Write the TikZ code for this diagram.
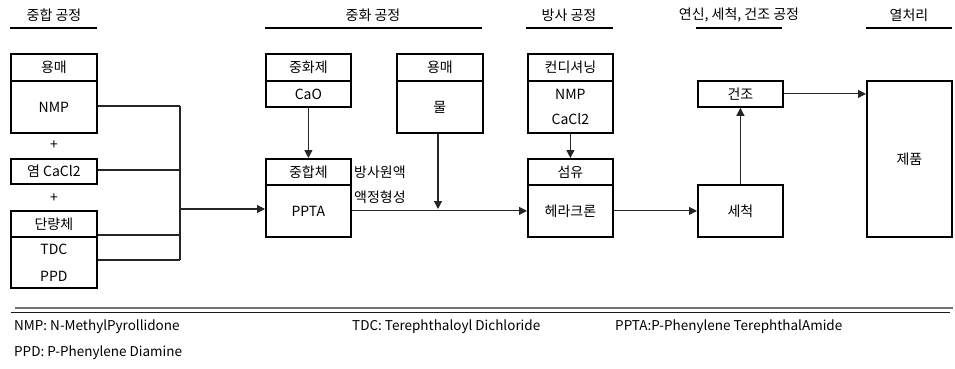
\documentclass[tikz,border=0pt]{standalone}
\usepackage{fontspec}
\setmainfont{Noto Sans CJK KR}
\newfontfamily\footfont{Noto Sans CJK KR}
\usetikzlibrary{arrows.meta}
\begin{document}
\begin{tikzpicture}[x=1pt,y=-1pt,
  box/.style={draw=black, line width=1.8pt, minimum width=86pt, anchor=north west, inner sep=0pt, align=center, font=\fontsize{14}{26}\selectfont},
  conn/.style={line width=1.1pt, draw=black!85},
  arr/.style={conn, -{Triangle[length=8pt,width=8pt]}},
  hdr/.style={font=\fontsize{14}{16}\selectfont},
  hline/.style={line width=2pt},
  note/.style={anchor=west, inner sep=0pt, font=\footfont\fontsize{13.5}{15}\selectfont},
  plain/.style={font=\fontsize{14}{16}\selectfont, inner sep=0pt}
]
\useasboundingbox (0,0) rectangle (955,369);

% headers
\node[hdr] (h1) at (54,15) {중합 공정};
\node[hdr] (h2) at (373,15) {중화 공정};
\node[hdr] (h3) at (569,15) {방사 공정};
\node[hdr] (h4) at (739,15) {연신, 세척, 건조 공정};
\node[hdr] (h5) at (909,15) {열처리};
\draw[hline] (10,28) -- (97,28);
\draw[hline] (265,28) -- (482,28);
\draw[hline] (526,28) -- (613,28);
\draw[hline] (696,28) -- (782,28);
\draw[hline] (866,28) -- (952,28);

% polymerisation column
\node[box, minimum height=27pt] (s1t) at (10,53) {용매};
\node[box, minimum height=52pt] (s1b) at (10,80) {NMP};
\node[plain] (p1) at (54,145) {+};
\node[box, minimum height=25pt] (salt) at (10,158) {염 CaCl2};
\node[plain] (p2) at (54,198) {+};
\node[box, minimum height=26pt] (mt) at (10,210) {단량체};
\node[box, minimum height=51pt, font=\fontsize{14}{27}\selectfont] (mb) at (10,236) {TDC\\PPD};

% neutralisation
\node[box, minimum width=85pt, minimum height=27pt] (nt) at (265,53) {중화제};
\node[box, minimum width=85pt, minimum height=26pt] (nb) at (265,80) {CaO};
\node[box, minimum width=85pt, minimum height=26pt] (pt) at (265,158) {중합체};
\node[box, minimum width=85pt, minimum height=52pt] (pb) at (265,184) {PPTA};
\node[plain, anchor=west] (l1) at (354,172) {방사원액};
\node[plain, anchor=west] (l2) at (354,197) {액정형성};
\node[box, minimum height=27pt] (s2t) at (396,53) {용매};
\node[box, minimum height=52pt] (s2b) at (396,80) {물};

% spinning
\node[box, minimum width=85pt, minimum height=27pt] (ct) at (527,53) {컨디셔닝};
\node[box, minimum width=85pt, minimum height=52pt, font=\fontsize{14}{25}\selectfont] (cb) at (527,80) {NMP\\CaCl2};
\node[box, minimum width=85pt, minimum height=26pt] (ft) at (527,158) {섬유};
\node[box, minimum width=85pt, minimum height=52pt] (fb) at (527,184) {헤라크론};

% washing / drying
\node[box, minimum width=85pt, minimum height=52pt] (wash) at (697,184) {세척};
\node[box, minimum width=85pt, minimum height=26pt] (dry) at (697,80) {건조};

% heat treatment
\node[box, minimum width=85pt, minimum height=156pt] (prod) at (866,80) {제품};

% junctions
\coordinate (j1) at (180,106);
\coordinate (j2) at (180,170);
\coordinate (j3) at (180,235);
\coordinate (j4) at (180,260);
\coordinate (jm) at (180,209);
\coordinate (jw) at (438,209);

\draw[conn] (s1b.east |- j1) -- (j1);
\draw[conn] (salt.east |- j2) -- (j2);
\draw[conn] (mb.east |- j3) -- (j3);
\draw[conn] (mb.east |- j4) -- (j4);
\draw[conn] (j1) -- (j4);
\draw[arr] (jm) -- (pb.west |- jm);
\draw[arr] (nb.south) -- (pt.north);
\draw[arr] (pb.east) -- (fb.west);
\draw[arr] (s2b.south -| jw) -- (jw);
\draw[arr] (cb.south) -- (ft.north);
\draw[arr] (fb.east) -- (wash.west);
\draw[arr] (wash.north) -- (dry.south);
\draw[arr] (dry.east) -- (prod.west |- dry.east);

% bottom rules
\draw[line width=2pt, draw=black!55] (15,308) -- (953,308);
\draw[line width=1pt, draw=black!90] (11,312) -- (950,312);

% footnotes
\node[note] (n1) at (14,327) {NMP: N-MethylPyrollidone};
\node[note] (n2) at (352,327) {TDC: Terephthaloyl Dichloride};
\node[note] (n3) at (615,327) {PPTA:P-Phenylene TerephthalAmide};
\node[note] (n4) at (14,353) {PPD: P-Phenylene Diamine};
\end{tikzpicture}
\end{document}
